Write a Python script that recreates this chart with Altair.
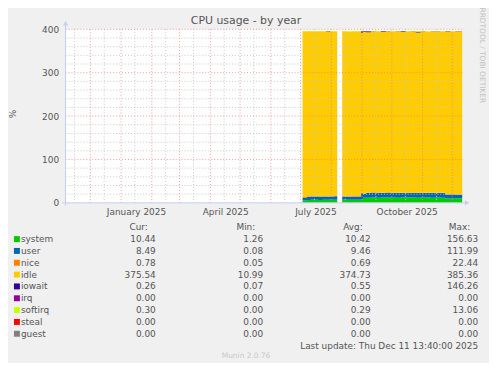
import altair as alt
import pandas as pd

FONT = "DejaVu Sans"
TXT = "#555555"

# ---------------- data ----------------
series = ["system", "user", "nice", "idle", "iowait", "irq", "softirq", "steal", "guest"]
colors = ["#00CC00", "#0066B3", "#FF8000", "#FFCC00", "#330099", "#990099", "#CCFF00", "#FF0000", "#808080"]

# first block of samples (ends just before the gap in August)
dates1 = ["2025-07-03", "2025-07-07", "2025-07-11", "2025-07-15", "2025-07-19",
          "2025-07-23", "2025-07-27", "2025-07-31", "2025-08-04", "2025-08-07"]
system1 = [5.5, 6.8, 6.9, 7.0, 6.8, 6.9, 7.0, 6.9, 7.1, 7.1]
user1 = [6.0, 7.4, 7.6, 7.5, 7.7, 7.6, 7.4, 7.6, 8.0, 8.0]
nice1 = [1.8, 1.0, 0.5, 0.5, 0.4, 0.5, 0.5, 0.6, 0.9, 0.9]
idle1 = [382.1, 380.2, 380.5, 380.4, 380.6, 380.4, 379.6, 380.3, 379.4, 379.4]
iowait1 = [0.3, 0.3, 0.2, 0.3, 0.2, 0.3, 1.2, 0.3, 0.3, 0.3]
softirq1 = [0.3, 0.3, 0.3, 0.3, 0.3, 0.3, 0.3, 0.3, 0.3, 0.3]

# second block of samples (after the gap)
dates2 = ["2025-08-12", "2025-08-17", "2025-08-22", "2025-08-27", "2025-08-31", "2025-09-02",
          "2025-09-05", "2025-09-10", "2025-09-15", "2025-09-20", "2025-09-25", "2025-09-30",
          "2025-10-05", "2025-10-10", "2025-10-15", "2025-10-20", "2025-10-25", "2025-10-30",
          "2025-11-04", "2025-11-09", "2025-11-14", "2025-11-19", "2025-11-24", "2025-11-29",
          "2025-12-04", "2025-12-11"]
system2 = [7.0, 6.9, 7.0, 7.2, 8.0, 11.5, 12.0, 12.3, 12.0, 12.2, 12.4, 12.1, 12.0,
           12.2, 12.3, 12.1, 12.0, 12.2, 12.1, 12.0, 12.2, 12.0, 9.8, 10.0, 10.4, 10.4]
user2 = [7.6, 7.5, 7.8, 7.6, 14.0, 9.5, 10.5, 10.8, 11.0, 10.6, 10.9, 10.7, 10.5,
         10.8, 10.6, 10.9, 10.5, 10.7, 10.6, 10.8, 10.5, 10.6, 9.6, 9.2, 8.5, 8.5]
nice2 = [0.6, 0.5, 0.5, 0.6, 1.5, 0.8, 0.6, 1.4, 0.6, 0.7, 1.2, 0.6, 0.7,
         0.5, 0.6, 0.6, 0.6, 0.5, 0.6, 0.7, 0.6, 0.6, 0.7, 0.8, 0.78, 0.78]
idle2 = [380.2, 379.2, 380.1, 380.0, 368.7, 371.9, 370.1, 370.7, 371.7, 370.2, 370.7, 371.9, 372.0,
         370.0, 370.3, 371.5, 369.5, 371.8, 370.8, 371.6, 371.9, 372.1, 374.1, 375.4, 375.5, 375.5]
iowait2 = [0.3, 0.4, 0.3, 0.3, 3.5, 2.0, 2.5, 0.5, 0.4, 2.0, 0.5, 0.4, 0.5,
           2.2, 0.4, 0.6, 1.8, 0.5, 0.4, 0.6, 0.5, 0.4, 1.5, 0.3, 0.26, 0.26]
softirq2 = [0.3, 1.5, 0.3, 0.3, 0.3, 0.3, 0.3, 0.3, 0.3, 0.3, 0.3, 0.3, 0.3,
            0.3, 1.8, 0.3, 1.6, 0.3, 1.5, 0.3, 0.3, 0.3, 0.3, 0.3, 0.3, 0.3]

# legend table
cols = ["Cur", "Min", "Avg", "Max"]
cur = [10.44, 8.49, 0.78, 375.54, 0.26, 0.00, 0.30, 0.00, 0.00]
mins = [1.26, 0.08, 0.05, 10.99, 0.07, 0.00, 0.00, 0.00, 0.00]
avg = [10.42, 9.46, 0.69, 374.73, 0.55, 0.00, 0.29, 0.00, 0.00]
maxs = [156.63, 111.99, 22.44, 385.36, 146.26, 0.00, 13.06, 0.00, 0.00]

# axis ticks / grid
y_labels = [0, 100, 200, 300, 400]
y_major = [100, 200, 300, 400]
y_minor = [20, 40, 60, 80, 120, 140, 160, 180, 220, 240, 260, 280, 320, 340, 360, 380]
x_major = ["2024-12-01", "2025-01-01", "2025-02-01", "2025-03-01", "2025-04-01", "2025-05-01",
           "2025-06-01", "2025-07-01", "2025-08-01", "2025-09-01", "2025-10-01", "2025-11-01",
           "2025-12-01"]
x_minor = ["2024-11-15", "2024-12-15", "2025-01-15", "2025-02-15", "2025-03-15", "2025-04-15",
           "2025-05-15", "2025-06-15", "2025-07-15", "2025-08-15", "2025-09-15", "2025-10-15",
           "2025-11-15"]
label_months = [1, 4, 7, 10]


def long_df(dates, cols_map):
    rows = []
    for i, d in enumerate(dates):
        for k, s in enumerate(series):
            if s in cols_map:
                rows.append({"date": d, "series": s, "idx": k, "value": cols_map[s][i]})
    return pd.DataFrame(rows)


df1 = long_df(dates1, {"system": system1, "user": user1, "nice": nice1, "idle": idle1,
                       "iowait": iowait1, "softirq": softirq1})
df2 = long_df(dates2, {"system": system2, "user": user2, "nice": nice2, "idle": idle2,
                       "iowait": iowait2, "softirq": softirq2})

# ---------------- scales / axes ----------------
xscale = alt.Scale(type="utc", domain=[alt.DateTime(year=2024, month=11, date=6, utc=True),
                                       alt.DateTime(year=2025, month=12, date=11, utc=True)])
yscale = alt.Scale(domain=[0, 400], nice=False)
xaxis = alt.Axis(values=[alt.DateTime(year=2025, month=m, date=16, utc=True) for m in label_months],
                 format="%B %Y", grid=False, ticks=False, domain=False, labelPadding=5,
                 labelFont=FONT, labelFontSize=9, labelColor=TXT, title=None, labelFlush=False)
yaxis = alt.Axis(values=y_labels, grid=False, ticks=False, domain=False, labelPadding=7,
                 labelFont=FONT, labelFontSize=9, labelColor=TXT,
                 title="%", titleFont=FONT, titleFontSize=9, titleColor=TXT, titleFontWeight="normal",
                 titleAngle=-90, titleX=-53, titleY=85, titleAlign="center", titleBaseline="middle")
cscale = alt.Scale(domain=series, range=colors)


def area(df):
    return alt.Chart(df).mark_area(interpolate="step-after").encode(
        x=alt.X("date:T", scale=xscale, axis=xaxis),
        y=alt.Y("value:Q", stack="zero", scale=yscale, axis=yaxis),
        color=alt.Color("series:N", scale=cscale, legend=None),
        order=alt.Order("idx:Q", sort="ascending"),
    )


dash = [1, 2]
ymin_r = alt.Chart(pd.DataFrame({"v": y_minor})).mark_rule(
    stroke="#c8c8c8", strokeDash=dash, strokeWidth=1).encode(
    y=alt.Y("v:Q", scale=yscale, axis=yaxis))
xmin_r = alt.Chart(pd.DataFrame({"d": x_minor})).mark_rule(
    stroke="#c8c8c8", strokeDash=dash, strokeWidth=1).encode(
    x=alt.X("d:T", scale=xscale, axis=xaxis))
ymaj_r = alt.Chart(pd.DataFrame({"v": y_major})).mark_rule(
    stroke="#f08080", strokeDash=dash, strokeWidth=1, opacity=0.8).encode(
    y=alt.Y("v:Q", scale=yscale, axis=yaxis))
xmaj_r = alt.Chart(pd.DataFrame({"d": x_major})).mark_rule(
    stroke="#f08080", strokeDash=dash, strokeWidth=1, opacity=0.8).encode(
    x=alt.X("d:T", scale=xscale, axis=xaxis))

one = pd.DataFrame({"a": [0]})
AX = "#c4cdf2"
yline = alt.Chart(one).mark_rule(stroke=AX, strokeWidth=1).encode(
    x=alt.value(0), y=alt.value(-4), y2=alt.value(178))
xline = alt.Chart(one).mark_rule(stroke=AX, strokeWidth=1).encode(
    x=alt.value(-3), x2=alt.value(403), y=alt.value(175))
yarrow = alt.Chart(one).mark_point(shape="triangle-up", filled=True, color=AX, size=28, opacity=1).encode(
    x=alt.value(0), y=alt.value(-6))
xarrow = alt.Chart(one).mark_point(shape="triangle-right", filled=True, color=AX, size=28, opacity=1).encode(
    x=alt.value(405), y=alt.value(175))

title = alt.Chart(one).mark_text(text="CPU usage - by year", font=FONT, fontSize=11, color=TXT,
                                 align="center", baseline="middle").encode(
    x=alt.value(182), y=alt.value(-8))
rrd = alt.Chart(one).mark_text(text="RRDTOOL / TOBI OETIKER", font=FONT, fontSize=7.5, color="#c0c0c0",
                               align="left", baseline="middle", angle=90).encode(
    x=alt.value(420), y=alt.value(-22))

main = alt.layer(area(df1), area(df2), ymin_r, xmin_r, ymaj_r, xmaj_r,
                 yline, xline, yarrow, xarrow, title, rrd)

# ---------------- legend table ----------------
rows_dom = ["header"] + series
ys = alt.Scale(domain=rows_dom, range=[199.6, 307], padding=0)
xs = alt.Scale(domain=cols, range=[91, 416], padding=0)

cells = []
for i, s in enumerate(series):
    for c, arr in zip(cols, [cur, mins, avg, maxs]):
        cells.append({"row": s, "col": c, "txt": f"{arr[i]:.2f}"})
cells_df = pd.DataFrame(cells)
head_df = pd.DataFrame({"row": ["header"] * 4, "col": cols, "txt": [c + ":" for c in cols]})
names_df = pd.DataFrame({"row": series})

nums = alt.Chart(cells_df).mark_text(font=FONT, fontSize=9, color=TXT, align="right", baseline="middle").encode(
    x=alt.X("col:N", scale=xs, axis=None), y=alt.Y("row:N", scale=ys, axis=None), text="txt:N")
heads = alt.Chart(head_df).mark_text(font=FONT, fontSize=9, color=TXT, align="right", baseline="middle",
                                     dx=-8).encode(
    x=alt.X("col:N", scale=xs, axis=None), y=alt.Y("row:N", scale=ys, axis=None), text="txt:N")
names = alt.Chart(names_df).mark_text(font=FONT, fontSize=9, color=TXT, align="left", baseline="middle").encode(
    x=alt.value(-45), y=alt.Y("row:N", scale=ys, axis=None), text="row:N")
swatch = alt.Chart(names_df).mark_square(size=36, opacity=1).encode(
    x=alt.value(-49), y=alt.Y("row:N", scale=ys, axis=None),
    color=alt.Color("row:N", scale=cscale, legend=None))
upd = alt.Chart(one).mark_text(text="Last update: Thu Dec 11 13:40:00 2025", font=FONT, fontSize=9,
                               color=TXT, align="right", baseline="middle").encode(
    x=alt.value(416), y=alt.value(319.5))
munin = alt.Chart(one).mark_text(text="Munin 2.0.76", font=FONT, fontSize=7.5, color="#c8c8c8",
                                 align="center", baseline="middle").encode(
    x=alt.value(182), y=alt.value(329.5))

table = alt.layer(nums, heads, names, swatch, upd, munin)

chart = alt.layer(main, table).resolve_scale(x="independent", y="independent").properties(
    width=400, height=175,
    autosize=alt.AutoSizeParams(type="none"),
    padding={"left": 58, "top": 20, "right": 27, "bottom": 160},
    background="#F0F0F0",
).configure_view(fill="white", stroke=None)

chart.save("out.html", embed_options={"renderer": "svg", "actions": False})
